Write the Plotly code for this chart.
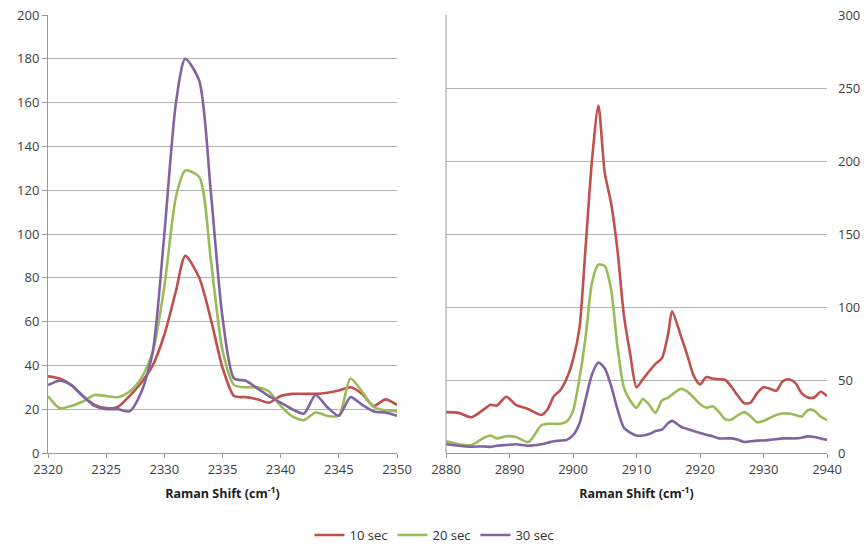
import plotly.graph_objects as go

# ---------- data ----------
series_names = ["10 sec", "20 sec", "30 sec"]
colors = ["#C0504D", "#9BBB59", "#8064A2"]

# Left panel (2320-2350 cm-1)
x_left = [2320, 2321, 2322, 2323, 2324, 2325, 2326, 2327, 2328, 2329, 2330, 2331,
          2331.8, 2333, 2334, 2335, 2336, 2337, 2338, 2339, 2340, 2341, 2342, 2343,
          2344, 2345, 2346, 2347, 2348, 2349, 2350]
left_10 = [35, 34, 31, 26, 22, 20.5, 21, 26, 32, 40, 54, 74,
           90, 80, 61, 39, 26, 25.5, 24.5, 23, 26, 27, 27, 27,
           27.5, 28.5, 30, 27, 21.5, 24.5, 22]
left_20 = [26, 20.5, 21.5, 23.5, 26.5, 26, 25.5, 28, 34, 46, 76, 117,
           129, 126, 88, 47, 31, 30, 30, 28, 21.5, 16.7, 15, 18.5,
           17, 17, 34, 28, 21, 19.5, 19]
left_30 = [31, 33, 31, 26, 21.5, 20, 20, 19, 27.5, 46, 100, 160,
           180, 170, 119, 62, 34, 33, 29.5, 26, 23, 20, 18, 26.5,
           21, 17, 25.5, 22, 19, 18.5, 17]

# Right panel (2880-2940 cm-1)
x_right = [2880, 2882, 2884, 2886, 2887, 2888, 2889.5, 2891, 2893, 2895, 2896, 2897,
           2898, 2899, 2900, 2901, 2902, 2903, 2904, 2905, 2906, 2907, 2908, 2909,
           2910, 2911, 2912, 2913, 2914, 2915, 2915.6, 2917, 2918, 2919, 2920, 2921,
           2922, 2923, 2924, 2925, 2926, 2927, 2928, 2929, 2930, 2931, 2932, 2933,
           2934, 2935, 2936, 2937, 2938, 2939, 2940]
right_10 = [28, 27.5, 24.5, 30, 33, 32.5, 38.5, 33, 30, 26, 30, 39,
            43, 51, 64, 85, 142, 201, 238, 192, 171, 139, 95, 68,
            45, 50.5, 56, 61, 65, 82, 97, 80, 67, 53, 47, 52,
            51, 50.5, 50, 45, 39, 34, 34.6, 41, 45, 44, 42.6, 49,
            50.5, 48, 41, 38, 38, 42, 39]
right_20 = [8, 6, 5.5, 10.5, 12, 10, 11.5, 11, 7.5, 19, 20, 20,
            20, 21.5, 29, 50.5, 80, 117, 129, 128, 112, 73, 45, 36,
            31, 37, 33, 27.5, 36, 38, 40, 44, 42, 38, 33.5, 31,
            32, 28, 23, 23, 26, 28, 25, 21, 22, 24, 26, 27,
            27, 26, 25, 29.5, 29, 25, 22.5]
right_30 = [6, 5, 4.3, 4.5, 4.2, 5, 5.5, 6, 5, 6, 7, 8,
            8.5, 9, 12, 20, 37, 54, 62, 58, 46, 30, 17.5, 14,
            12, 12, 13, 15, 16, 20.5, 22, 18, 16.5, 15, 13.7, 12.5,
            11.4, 10, 10, 10, 9, 7.5, 8, 8.5, 8.6, 9, 9.5, 10,
            10, 10, 10.5, 11.4, 11, 10, 9]

left_ticks_y = [0, 20, 40, 60, 80, 100, 120, 140, 160, 180, 200]
right_ticks_y = [0, 50, 100, 150, 200, 250, 300]
x_title = "<b>Raman Shift (cm<sup>-1</sup>)</b>"

# ---------- figure ----------
fig = go.Figure()
left_vals = [left_10, left_20, left_30]
right_vals = [right_10, right_20, right_30]
for name, col, ly in zip(series_names, colors, left_vals):
    fig.add_trace(go.Scatter(x=x_left, y=ly, name=name, mode="lines",
                             line=dict(color=col, width=2.6, shape="spline", smoothing=0.7),
                             xaxis="x", yaxis="y", legendgroup=name))
for name, col, ry in zip(series_names, colors, right_vals):
    fig.add_trace(go.Scatter(x=x_right, y=ry, name=name, mode="lines",
                             line=dict(color=col, width=2.6, shape="spline", smoothing=0.7),
                             xaxis="x2", yaxis="y2", legendgroup=name, showlegend=False))

W, H = 865, 545
ML, MR, MT, MB = 48, 38, 15, 92
PW = W - ML - MR
PH = H - MT - MB
grid_col = "#B4B4B4"
axis_col = "#9A9A9A"
tick_font = dict(family="Open Sans, Liberation Sans, sans-serif", size=13, color="#404040")
title_font = dict(family="Open Sans, Liberation Sans, sans-serif", size=12.5, color="#202020")

fig.update_layout(
    width=W, height=H,
    margin=dict(l=ML, r=MR, t=MT, b=MB, autoexpand=False),
    plot_bgcolor="white", paper_bgcolor="white",
    showlegend=True,
    legend=dict(orientation="h", x=(434 - ML) / PW, xanchor="center",
                y=(453 - 535) / PH, yanchor="middle",
                font=dict(family="Open Sans, Liberation Sans, sans-serif", size=13, color="#303030"),
                itemwidth=30, tracegroupgap=0),
    xaxis=dict(domain=[0, (397 - ML) / PW], range=[2320, 2350], dtick=5, tick0=2320,
               showline=True, linecolor=axis_col, linewidth=1, ticks="outside", ticklen=4,
               tickcolor=axis_col, showgrid=False, zeroline=False, tickfont=tick_font,
               automargin=False,
               title=dict(text=x_title, font=title_font, standoff=12), anchor="y"),
    yaxis=dict(range=[0, 200], tickvals=left_ticks_y, showline=True, linecolor=axis_col,
               ticks="outside", ticklen=5, tickcolor=axis_col, showgrid=True, gridcolor=grid_col,
               gridwidth=1, zeroline=False, tickfont=tick_font, anchor="x", automargin=False),
    xaxis2=dict(domain=[(446 - ML) / PW, 1], range=[2880, 2940], dtick=10, tick0=2880,
                showline=True, linecolor=axis_col, linewidth=1, ticks="outside", ticklen=4,
                tickcolor=axis_col, showgrid=False, zeroline=False, tickfont=tick_font,
                automargin=False,
                title=dict(text=x_title, font=title_font, standoff=12), anchor="y2"),
    yaxis2=dict(range=[0, 300], tickvals=right_ticks_y, side="right", anchor="x2",
                showline=False, ticks="", showgrid=True, gridcolor=grid_col, gridwidth=1,
                zeroline=False, tickfont=tick_font, ticklabelstandoff=10, automargin=False),
)
# vertical axis line at left edge of right panel
fig.add_shape(type="line", xref="x2 domain", yref="y2 domain", x0=0, x1=0, y0=0, y1=1,
              line=dict(color=axis_col, width=1))

fig.write_html("out.html", config={"displayModeBar": False})

# remove the default page margin so the figure sits at the window's top-left corner
with open("out.html", "r", encoding="utf-8") as f:
    html = f.read()
html = html.replace("<head>", "<head><style>html,body{margin:0;padding:0;overflow:hidden;}</style>", 1)
with open("out.html", "w", encoding="utf-8") as f:
    f.write(html)
